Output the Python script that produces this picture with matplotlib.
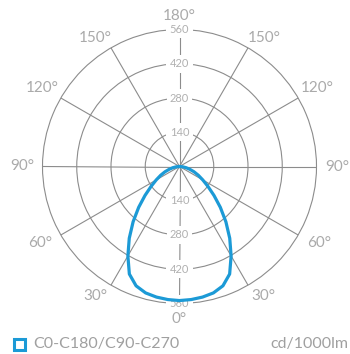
import numpy as np
import matplotlib
matplotlib.use("Agg")
import matplotlib.pyplot as plt

# ---- data ----
angles_deg = [0, 5, 10, 15, 20, 25, 30, 35, 40, 45, 50, 55, 60, 65, 70, 75, 80, 85, 90]
intensity = [548, 546, 542, 535, 519, 485, 422, 358, 295, 236, 184, 142, 110, 85, 63, 43, 27, 12, 0]
ring_values = [140, 280, 420, 560]
angle_labels = ["0°", "30°", "60°", "90°", "120°", "150°", "180°"]
legend_label = "C0-C180/C90-C270"
unit_label = "cd/1000lm"

BLUE = "#1c9ad6"
GRID = "#8c8c8c"
TXT = "#aaaaaa"
FONT = ["Lato", "DejaVu Sans"]

fig = plt.figure(figsize=(3.5, 3.54), dpi=100)
R = 137
cx, cy = 179.5, 166.5
ax = fig.add_axes([(cx - R) / 350, (354 - cy - R) / 354, 2 * R / 350, 2 * R / 354],
                  projection="polar")
ax.set_theta_zero_location("S")
ax.set_theta_direction(1)
ax.set_ylim(0, 560)

# grid
ax.set_thetagrids(np.arange(0, 360, 30), labels=[""] * 12)
ax.set_rgrids(ring_values[:-1], labels=[""] * 3)
ax.grid(True, color=GRID, lw=0.8)
ax.spines["polar"].set_color(GRID)
ax.spines["polar"].set_linewidth(0.8)
ax.tick_params(length=0)

# curve (symmetric)
a = np.array(angles_deg, dtype=float)
v = np.array(intensity, dtype=float)
full_a = np.concatenate([-a[::-1], a[1:]])
full_v = np.concatenate([v[::-1], v[1:]])
ax.plot(np.deg2rad(full_a), full_v, color=BLUE, lw=2.3, zorder=5, solid_capstyle="round")

# radial labels (top and bottom)
for rv in ring_values:
    for th in (0, np.pi):
        ax.text(th, rv, str(rv), ha="center", va="center", fontsize=8, color="#b0b0b0",
                family=FONT, zorder=4,
                bbox=dict(boxstyle="square,pad=0.3", fc="white", ec="none"))

# angle labels: (display angle, radius factor) tuned to the reference layout
label_pos = {0: (0, 1.115), 30: (33, 1.125), 60: (61.3, 1.16), 90: (90, 1.15),
             120: (119.7, 1.155), 150: (146.7, 1.125), 180: (180, 1.095)}
for i, lab in enumerate(angle_labels):
    deg = i * 30
    th, f = label_pos[deg]
    for sgn in ((1, -1) if 0 < deg < 180 else (1,)):
        ax.text(np.deg2rad(sgn * th), 560 * f, lab, ha="center", va="center",
                fontsize=11, color=TXT, family=FONT, clip_on=False)

# legend
fig.patches.append(plt.Rectangle((14 / 350, 1 - 349.5 / 354), 11 / 350, 11 / 354,
                                 transform=fig.transFigure, fill=False, ec=BLUE, lw=2.2))
fig.text(33 / 350, 1 - 344 / 354, legend_label, ha="left", va="center", fontsize=11.5,
         color="#a0a0a0", family=FONT)
fig.text(348 / 350, 1 - 344 / 354, unit_label, ha="right", va="center", fontsize=11.5,
         color="#a0a0a0", family=FONT)

fig.savefig("out.png", dpi=100, facecolor="white")
